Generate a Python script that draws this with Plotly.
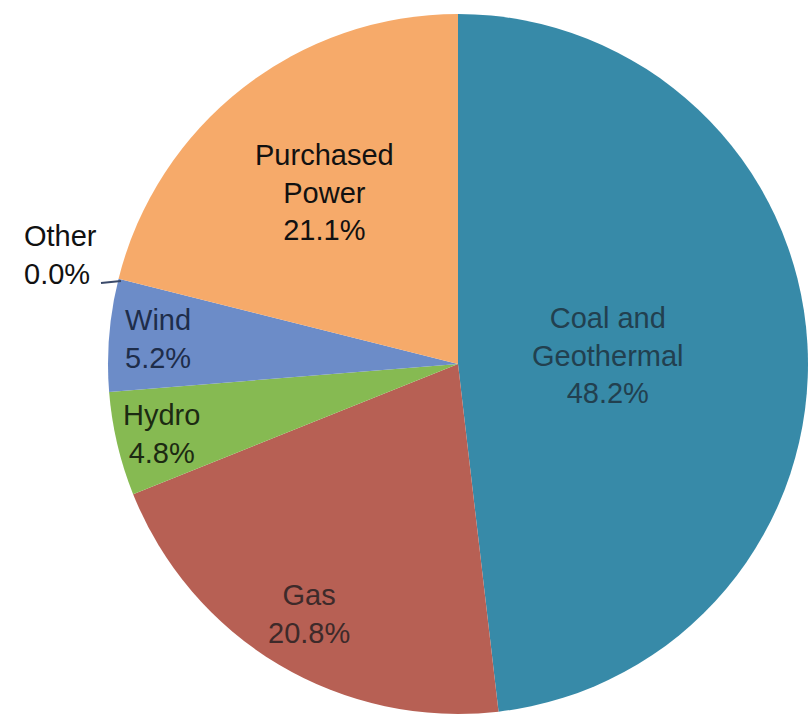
import math
import plotly.graph_objects as go

# Generation mix by source (percent of total)
sources = ["Coal and Geothermal", "Gas", "Hydro", "Wind", "Other", "Purchased Power"]
shares = [48.2, 20.8, 4.8, 5.2, 0.0, 21.1]

# How each source name is wrapped inside its slice
label_lines = {
    "Coal and Geothermal": "Coal and<br>Geothermal",
    "Purchased Power": "Purchased<br>Power",
}

slice_colors = ["#378aa8", "#b76054", "#86ba52", "#6c8cc8", "#5a6f9a", "#f6aa6a"]
text_colors = ["#22404f", "#3d2a2a", "#1c2a12", "#1e2d4a", "#111111", "#111111"]
# distance of each label from the centre, as a fraction of the radius
label_radius = [0.43, 0.83, 0.87, 0.86, None, 0.62]

W, H = 808, 720
CX, CY, R = 458.0, 364.0, 350.0  # pie centre and radius in pixels
FONT = "Liberation Sans, Arial, sans-serif"
FSIZE = 29

fig = go.Figure(
    go.Pie(
        labels=sources,
        values=shares,
        sort=False,
        direction="clockwise",
        rotation=0,
        marker=dict(colors=slice_colors, line=dict(width=0)),
        textinfo="none",
        hoverinfo="label+percent",
        showlegend=False,
        domain=dict(x=[(CX - R) / W, min(1.0, (CX + R) / W)],
                    y=[1 - (CY + R) / H, 1 - (CY - R) / H]),
    )
)

total = sum(shares)
cum = 0.0
annotations = []
for name, val, col, rf in zip(sources, shares, text_colors, label_radius):
    mid = (cum + val / 2) / total * 2 * math.pi
    cum += val
    text = f"{label_lines.get(name, name)}<br>{val:.1f}%"
    if rf is None:
        # tiny slice: label sits outside with a short leader line
        px, py, align = 60, 255, "left"
    else:
        px = CX + rf * R * math.sin(mid)
        py = CY - rf * R * math.cos(mid)
        align = "center"
    annotations.append(dict(
        x=px / W, y=1 - py / H, xref="paper", yref="paper",
        xanchor="center", yanchor="middle",
        text=text, showarrow=False, align=align,
        font=dict(family=FONT, size=FSIZE, color=col),
    ))

fig.update_layout(
    width=W,
    height=H,
    margin=dict(l=0, r=0, t=0, b=0),
    paper_bgcolor="white",
    plot_bgcolor="white",
    annotations=annotations,
    shapes=[dict(
        type="line", xref="paper", yref="paper",
        x0=101 / W, y0=1 - 283 / H, x1=121 / W, y1=1 - 281 / H,
        line=dict(color="#3a4a6a", width=2),
    )],
)

fig.write_html("out.html")
